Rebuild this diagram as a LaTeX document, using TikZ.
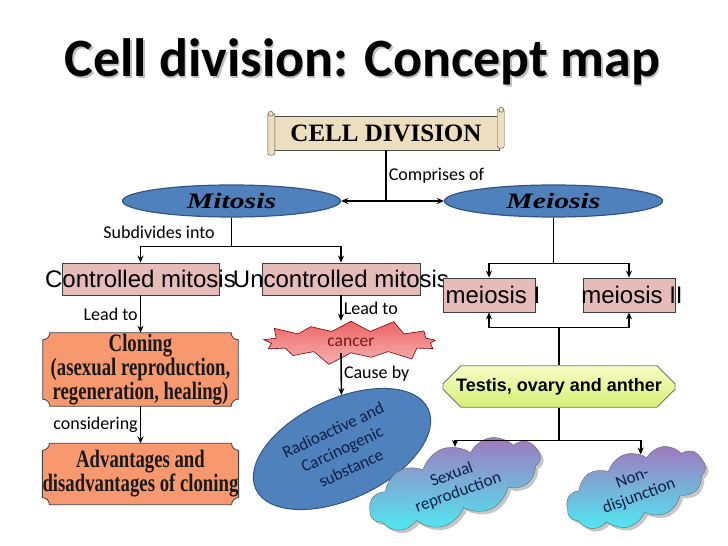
\documentclass[tikz,border=0pt]{standalone}
\usepackage{fontspec}
\usetikzlibrary{arrows.meta,shapes.geometric,shapes.symbols,shapes.misc,shadows,backgrounds}
\setmainfont{Carlito}
\newfontfamily\arialfont{Liberation Sans}
\newfontfamily\timesfont{Liberation Serif}
\newfontfamily\condfont[FakeStretch=0.75]{Liberation Serif}
\newfontfamily\fancyfont[FakeStretch=1.35]{Liberation Serif}

\definecolor{scrolltan}{RGB}{236,222,190}
\definecolor{ovalblue}{RGB}{79,129,189}
\definecolor{ovalline}{RGB}{50,85,130}
\definecolor{pinkfill}{RGB}{230,188,186}
\definecolor{orangefill}{RGB}{247,152,110}
\definecolor{navytext}{RGB}{15,30,70}
\definecolor{cancertext}{RGB}{120,25,25}

\tikzset{
  conn/.style={line width=1.6pt, -{Stealth[length=7pt,width=6pt]}},
  lbl/.style={font=\fontsize{18}{20}\selectfont, inner sep=2pt},
  oval/.style={ellipse, draw=ovalline, line width=1.2pt, fill=ovalblue,
    minimum width=218pt, minimum height=32pt,
    font=\fancyfont\bfseries\itshape\fontsize{22}{24}\selectfont},
  pinkrect/.style={rectangle, draw=black!75, line width=0.8pt, fill=pinkfill,
    inner sep=0pt, font=\arialfont\fontsize{24}{26}\selectfont},
  plaquebox/.style={inner sep=0pt, minimum width=195pt, align=center,
    text=black!90, font=\condfont\bfseries\fontsize{25}{22}\selectfont},
  cloudnode/.style={cloud, cloud puffs=11, cloud puff arc=110, cloud ignores aspect,
    draw=black!60,
    top color={rgb,255:red,160;green,120;blue,190},
    bottom color={rgb,255:red,80;green,232;blue,242},
    drop shadow={opacity=0.45, shadow xshift=3pt, shadow yshift=-3pt},
    align=center, text=navytext, font=\fontsize{17}{19}\selectfont, rotate=20},
}

% concave-cornered plaque behind a node
\newcommand\plaqueshape[1]{%
  \path[draw=black!75, line width=0.8pt, fill=orangefill]
    ([xshift=7pt]#1.north west) -- ([xshift=-7pt]#1.north east)
    arc[start angle=180, end angle=270, radius=7pt]
    -- ([yshift=7pt]#1.south east)
    arc[start angle=90, end angle=180, radius=7pt]
    -- ([xshift=7pt]#1.south west)
    arc[start angle=0, end angle=90, radius=7pt]
    -- ([yshift=-7pt]#1.north west)
    arc[start angle=270, end angle=360, radius=7pt] -- cycle;}

\begin{document}
\begin{tikzpicture}[x=1pt, y=1pt]
    \useasboundingbox (0,0) rectangle (728,546);
    % Title
    \node[anchor=base, text=black!25, font=\bfseries\fontsize{54}{60}\selectfont]
        (titleshadow) at (364,467.5) {Cell division: Concept map};
    \node[anchor=base, font=\bfseries\fontsize{54}{60}\selectfont]
        (title) at (362.5,469) {Cell division: Concept map};
    % Scroll
    \node[draw=black!70, fill=scrolltan, minimum width=226pt, minimum height=34pt,
        font=\timesfont\bfseries\fontsize{25}{27}\selectfont] (celldiv) at (386,413) {CELL DIVISION};
    \draw[black!70, fill=scrolltan, rounded corners=2pt]
        ([xshift=-5pt,yshift=3pt]celldiv.north west) rectangle ([xshift=2pt,yshift=-5pt]celldiv.south west);
    \draw[black!70, fill=scrolltan, rounded corners=2pt]
        ([xshift=-2pt,yshift=7pt]celldiv.north east) rectangle ([xshift=5pt,yshift=2pt]celldiv.south east);
    \draw[black!70, fill=scrolltan] ([xshift=-2pt,yshift=2pt]celldiv.north west) circle[radius=2.5pt];
    \draw[black!70, fill=scrolltan] ([xshift=2pt,yshift=6pt]celldiv.north east) circle[radius=2.5pt];
    % Ovals
    \node[oval] (mitosis) at (231.5,345) {Mitosis};
    \node[oval] (meiosis) at (553.5,345) {Meiosis};
    % Pink boxes
    \node[pinkrect, minimum width=157pt, minimum height=32pt] (ctrl) at (140.5,267) {\makebox[0pt]{Controlled mitosis}};
    \node[pinkrect, minimum width=158pt, minimum height=32pt] (unctrl) at (341,267) {\makebox[0pt]{Uncontrolled mitosis}};
    \node[pinkrect, minimum width=92pt, minimum height=34pt] (meiosisone) at (489,251) {\makebox[0pt]{\hspace{8pt}meiosis I}};
    \node[pinkrect, minimum width=92pt, minimum height=34pt] (meiosistwo) at (629,251) {\makebox[0pt]{\hspace{6pt}meiosis II}};
    % Plaques
    \node[plaquebox, minimum height=73pt] (cloning) at (140.5,176.5)
        {Cloning\\(asexual reproduction,\\regeneration, healing)};
    \node[plaquebox, minimum height=61pt] (advant) at (140.5,72)
        {Advantages and\\disadvantages of cloning};
    \begin{scope}[on background layer]
        \plaqueshape{cloning}
        \plaqueshape{advant}
    \end{scope}
    % Cancer
    \node[starburst, starburst points=13, starburst point height=14pt,
        minimum width=188pt, minimum height=40pt, draw=red!50!black, line width=0.6pt,
        top color={rgb,255:red,236;green,100;blue,100}, bottom color={rgb,255:red,246;green,178;blue,178},
        text=cancertext, font=\fontsize{17.5}{19}\selectfont] (cancer) at (351,204) {cancer};
    \node[ellipse, draw=ovalline, line width=1pt, fill=ovalblue, minimum width=190pt,
        minimum height=100pt, rotate=25, align=center, text=navytext,
        font=\fontsize{17}{21}\selectfont] (radio) at (342,97)
        {Radioactive and\\Carcinogenic\\substance};
    % Testis
    \node[chamfered rectangle, chamfered rectangle xsep=9pt, chamfered rectangle ysep=9pt,
        draw=black!55, line width=0.8pt, minimum width=232pt, minimum height=39pt,
        top color={rgb,255:red,246;green,252;blue,196}, bottom color={rgb,255:red,214;green,240;blue,118},
        font=\arialfont\bfseries\fontsize{18}{20}\selectfont] (testis) at (559,159.5)
        {Testis, ovary and anther};
    % Clouds
    \node[cloudnode, minimum width=180pt, minimum height=60pt] (sexcloud) at (455,62)
        {Sexual\\reproduction};
    \node[cloudnode, minimum width=146pt, minimum height=68pt] (nondis) at (636,58)
        {Non-\\disjunction};
    % Connectors
    \draw[conn] (celldiv.south) |- node[lbl, pos=0.25, right] {Comprises of} (mitosis.east);
    \draw[conn] (celldiv.south) |- (meiosis.west);
    \draw[conn] (mitosis.south) -- node[lbl, left, xshift=-14pt] {Subdivides into} ++(0,-29) -| (ctrl.north);
    \draw[conn] (mitosis.south) -- ++(0,-29) -| (unctrl.north);
    \draw[conn] (meiosis.south) -- ++(0,-46) -| (meiosisone.north);
    \draw[conn] (meiosis.south) -- ++(0,-46) -| (meiosistwo.north);
    \draw[conn] (testis.north) -- ++(0,38) -| (meiosisone.south);
    \draw[conn] (testis.north) -- ++(0,38) -| (meiosistwo.south);
    \draw[conn] (testis.south) -- ++(0,-33) -| (sexcloud.70);
    \draw[conn] (testis.south) -- ++(0,-33) -| (nondis.62);
    \draw[conn] (ctrl.south) -- node[lbl, left] {Lead to} (cloning.north);
    \draw[conn] (cloning.south) -- node[lbl, left] {considering} (advant.north);
    \draw[conn] (unctrl.south) -- node[lbl, right] {Lead to} (unctrl.south |- cancer.north);
    \draw[conn] (cancer.south -| unctrl.south) -- node[lbl, right] {Cause by} (radio);
\end{tikzpicture}
\end{document}
